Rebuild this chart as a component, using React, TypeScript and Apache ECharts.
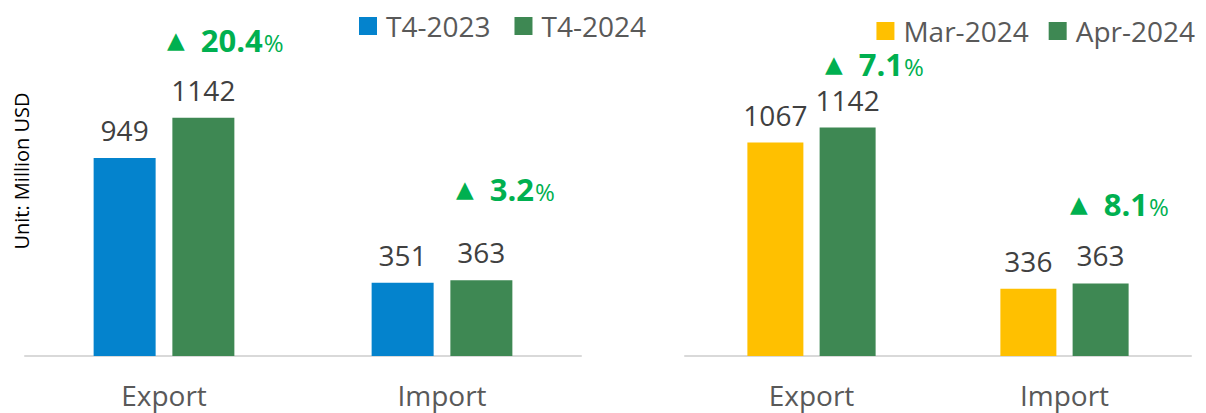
import React, { useEffect, useRef } from "react";
import * as echarts from "echarts";

const categories = ["Export", "Import"];
const leftNames = ["T4-2023", "T4-2024"];
const leftPrev = [949, 351];
const leftCurr = [1142, 363];
const rightNames = ["Mar-2024", "Apr-2024"];
const rightPrev = [1067, 336];
const rightCurr = [1142, 363];
const leftGrowth = ["20.4", "3.2"];
const rightGrowth = ["7.1", "8.1"];
const unitLabel = "Unit: Million USD";

const BLUE = "#0483CD";
const GREEN = "#3E8853";
const YELLOW = "#FFC000";
const UP = "#00B050";
const FONT = "'Open Sans', Roboto, sans-serif";

function growthText(v: string, x: number, y: number) {
  return {
    type: "text",
    x,
    y,
    style: {
      text: `{t|▲}{n|${v}}{p|%}`,
      verticalAlign: "middle",
      align: "left",
      rich: {
        t: { fontSize: 23, fontFamily: "DejaVu Sans", fill: UP, padding: [0, 16, 0, 0], verticalAlign: "middle" },
        n: { fontSize: 31, fontWeight: "bold", fontFamily: FONT, fill: UP, verticalAlign: "middle" },
        p: { fontSize: 24, fontFamily: FONT, fill: UP, verticalAlign: "middle", padding: [4, 0, 0, 1] },
      },
    },
  };
}

export default function App() {
  const ref = useRef<HTMLDivElement>(null);
  useEffect(() => {
    if (!ref.current) return;
    const chart = echarts.init(ref.current, null, { renderer: "svg" });
    const valueLabel = {
      show: true,
      position: "top",
      distance: 14,
      fontSize: 28,
      fontFamily: FONT,
      color: "#404040",
    };
    const catAxis = (gridIndex: number) => ({
      type: "category",
      gridIndex,
      data: categories,
      axisLine: { lineStyle: { color: "#D9D9D9", width: 2 } },
      axisTick: { show: false },
      axisLabel: { fontSize: 28, fontFamily: FONT, color: "#595959", margin: 25 },
    });
    const valAxis = (gridIndex: number) => ({
      type: "value",
      gridIndex,
      min: 0,
      max: 1400,
      show: false,
    });
    chart.setOption({
      animation: false,
      textStyle: { fontFamily: FONT },
      grid: [
        { left: 25, width: 556, top: 64, height: 292 },
        { left: 685, width: 506, top: 76, height: 280 },
      ],
      legend: [
        {
          data: leftNames,
          left: 354,
          top: 7,
          itemWidth: 18,
          itemHeight: 18,
          itemGap: 24,
          icon: "rect",
          textStyle: { fontSize: 28, fontFamily: FONT, color: "#595959", padding: [0, 0, 0, 4] },
        },
        {
          data: rightNames,
          right: 6,
          top: 12,
          itemWidth: 18,
          itemHeight: 18,
          itemGap: 20,
          icon: "rect",
          textStyle: { fontSize: 28, fontFamily: FONT, color: "#595959", padding: [0, 0, 0, 4] },
        },
      ],
      xAxis: [catAxis(0), catAxis(1)],
      yAxis: [valAxis(0), valAxis(1)],
      series: [
        {
          name: leftNames[0],
          type: "bar",
          xAxisIndex: 0,
          yAxisIndex: 0,
          data: leftPrev,
          barWidth: 62,
          barGap: "27%",
          itemStyle: { color: BLUE },
          label: valueLabel,
        },
        {
          name: leftNames[1],
          type: "bar",
          xAxisIndex: 0,
          yAxisIndex: 0,
          data: leftCurr,
          barWidth: 62,
          barGap: "27%",
          itemStyle: { color: GREEN },
          label: valueLabel,
        },
        {
          name: rightNames[0],
          type: "bar",
          xAxisIndex: 1,
          yAxisIndex: 1,
          data: rightPrev,
          barWidth: 56,
          barGap: "29%",
          itemStyle: { color: YELLOW },
          label: valueLabel,
        },
        {
          name: rightNames[1],
          type: "bar",
          xAxisIndex: 1,
          yAxisIndex: 1,
          data: rightCurr,
          barWidth: 56,
          barGap: "29%",
          itemStyle: { color: GREEN },
          label: valueLabel,
        },
      ],
      graphic: [
        {
          type: "text",
          x: 21,
          y: 171,
          rotation: Math.PI / 2,
          style: {
            text: unitLabel,
            align: "center",
            verticalAlign: "middle",
            fontSize: 20,
            fontFamily: FONT,
            fill: "#000000",
          },
        },
        growthText(leftGrowth[0], 167, 40),
        growthText(leftGrowth[1], 456, 189),
        growthText(rightGrowth[0], 825, 64),
        growthText(rightGrowth[1], 1070, 204),
      ],
    });
    return () => chart.dispose();
  }, []);
  return (
    <div
      ref={ref}
      style={{ position: "absolute", left: 0, top: 0, width: 1206, height: 413, background: "#fff" }}
    />
  );
}
